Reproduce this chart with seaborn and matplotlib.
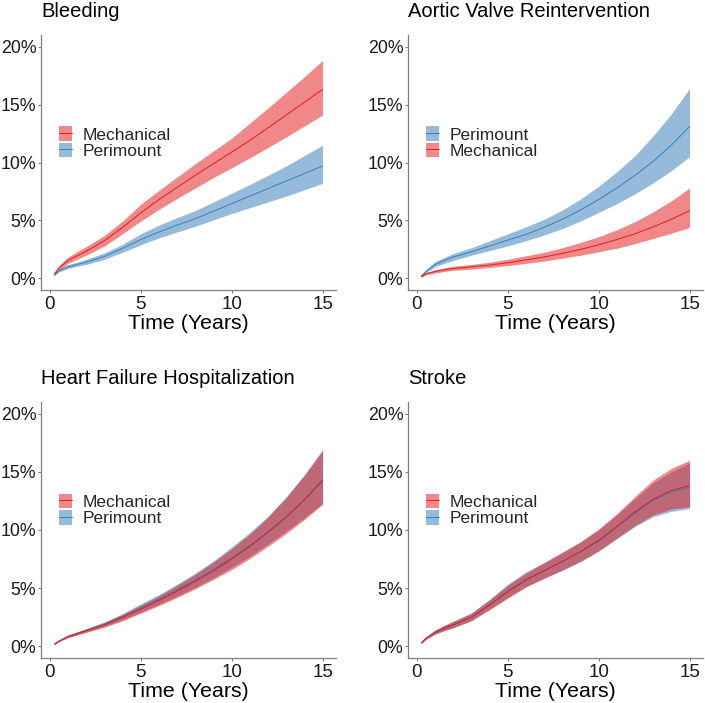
import matplotlib
matplotlib.use("Agg")
import matplotlib.pyplot as plt
import matplotlib.ticker as mtick
from matplotlib.patches import Patch
from matplotlib.lines import Line2D
from matplotlib.legend_handler import HandlerTuple
import seaborn as sns

# time grid (years) shared by every curve
TIME = [0.25, 0.5, 1, 1.5, 2, 3, 4, 5, 6, 7, 8, 9, 10, 11, 12, 13, 14, 15]

# cumulative incidence (%): estimate, lower, upper
bleed_mech = [0.4, 0.9, 1.55, 1.95, 2.35, 3.25, 4.4, 5.65, 6.8, 7.85, 8.9, 9.9, 10.9, 11.9, 13.0, 14.1, 15.2, 16.3]
bleed_mech_lo = [0.3, 0.7, 1.3, 1.65, 2.0, 2.8, 3.85, 4.95, 5.95, 6.9, 7.8, 8.7, 9.55, 10.4, 11.3, 12.2, 13.15, 14.1]
bleed_mech_hi = [0.5, 1.1, 1.85, 2.3, 2.75, 3.7, 4.95, 6.4, 7.6, 8.75, 9.9, 11.0, 12.1, 13.4, 14.7, 16.05, 17.4, 18.8]
bleed_peri = [0.3, 0.65, 1.0, 1.2, 1.4, 1.9, 2.6, 3.35, 4.0, 4.6, 5.15, 5.8, 6.45, 7.1, 7.75, 8.4, 9.05, 9.7]
bleed_peri_lo = [0.25, 0.55, 0.85, 1.05, 1.2, 1.65, 2.25, 2.9, 3.5, 4.0, 4.5, 5.05, 5.6, 6.1, 6.6, 7.1, 7.65, 8.2]
bleed_peri_hi = [0.35, 0.8, 1.2, 1.4, 1.65, 2.2, 2.95, 3.85, 4.6, 5.25, 5.85, 6.6, 7.35, 8.1, 8.9, 9.7, 10.6, 11.5]

avr_peri = [0.2, 0.6, 1.2, 1.55, 1.85, 2.3, 2.8, 3.3, 3.8, 4.4, 5.1, 5.9, 6.8, 7.8, 8.9, 10.1, 11.5, 13.1]
avr_peri_lo = [0.15, 0.5, 1.0, 1.3, 1.55, 2.0, 2.4, 2.8, 3.25, 3.75, 4.3, 4.95, 5.7, 6.45, 7.3, 8.25, 9.3, 10.5]
avr_peri_hi = [0.3, 0.75, 1.45, 1.8, 2.15, 2.65, 3.25, 3.85, 4.45, 5.1, 5.9, 6.85, 7.95, 9.2, 10.6, 12.3, 14.2, 16.4]
avr_mech = [0.15, 0.4, 0.6, 0.75, 0.85, 1.0, 1.15, 1.35, 1.6, 1.85, 2.15, 2.5, 2.9, 3.35, 3.85, 4.45, 5.1, 5.85]
avr_mech_lo = [0.1, 0.3, 0.45, 0.6, 0.7, 0.8, 0.95, 1.1, 1.3, 1.5, 1.75, 2.0, 2.3, 2.6, 3.0, 3.45, 3.9, 4.4]
avr_mech_hi = [0.2, 0.5, 0.75, 0.9, 1.05, 1.2, 1.4, 1.65, 1.95, 2.25, 2.65, 3.1, 3.6, 4.2, 4.9, 5.75, 6.7, 7.8]

hf_mech = [0.2, 0.45, 0.85, 1.1, 1.35, 1.85, 2.5, 3.2, 3.95, 4.75, 5.6, 6.5, 7.5, 8.6, 9.8, 11.1, 12.6, 14.3]
hf_mech_lo = [0.15, 0.4, 0.75, 0.98, 1.2, 1.65, 2.2, 2.85, 3.5, 4.2, 4.95, 5.75, 6.6, 7.55, 8.6, 9.7, 10.9, 12.2]
hf_mech_hi = [0.25, 0.5, 0.95, 1.22, 1.5, 2.05, 2.75, 3.55, 4.35, 5.25, 6.2, 7.25, 8.4, 9.65, 11.1, 12.8, 14.75, 16.9]
hf_peri = [0.2, 0.45, 0.86, 1.12, 1.38, 1.9, 2.58, 3.3, 4.05, 4.85, 5.7, 6.62, 7.6, 8.68, 9.85, 11.15, 12.6, 14.2]
hf_peri_lo = [0.15, 0.4, 0.77, 1.0, 1.24, 1.72, 2.3, 2.95, 3.62, 4.33, 5.08, 5.9, 6.8, 7.75, 8.8, 9.9, 11.05, 12.3]
hf_peri_hi = [0.25, 0.51, 0.96, 1.25, 1.53, 2.1, 2.82, 3.65, 4.45, 5.35, 6.3, 7.35, 8.55, 9.8, 11.2, 12.85, 14.7, 16.8]

stroke_mech = [0.3, 0.7, 1.2, 1.55, 1.85, 2.5, 3.55, 4.7, 5.7, 6.5, 7.3, 8.15, 9.1, 10.3, 11.55, 12.65, 13.4, 13.8]
stroke_mech_lo = [0.25, 0.6, 1.05, 1.35, 1.6, 2.2, 3.15, 4.15, 5.1, 5.85, 6.55, 7.3, 8.2, 9.3, 10.4, 11.3, 11.8, 12.0]
stroke_mech_hi = [0.35, 0.8, 1.4, 1.8, 2.15, 2.85, 4.0, 5.25, 6.3, 7.2, 8.1, 9.0, 10.1, 11.4, 12.9, 14.3, 15.3, 16.0]
stroke_peri = [0.3, 0.7, 1.2, 1.55, 1.85, 2.52, 3.6, 4.75, 5.75, 6.52, 7.3, 8.12, 9.05, 10.25, 11.45, 12.55, 13.25, 13.65]
stroke_peri_lo = [0.25, 0.6, 1.05, 1.35, 1.6, 2.22, 3.2, 4.2, 5.15, 5.85, 6.55, 7.3, 8.2, 9.25, 10.3, 11.15, 11.6, 11.85]
stroke_peri_hi = [0.35, 0.8, 1.4, 1.8, 2.15, 2.88, 4.05, 5.35, 6.4, 7.2, 8.05, 8.95, 10.0, 11.3, 12.7, 14.05, 15.0, 15.75]

TITLES = ["Bleeding", "Aortic Valve Reintervention", "Heart Failure Hospitalization", "Stroke"]
LEGEND_ORDER = [["Mechanical", "Perimount"], ["Perimount", "Mechanical"],
                ["Mechanical", "Perimount"], ["Mechanical", "Perimount"]]
COLORS = {"Mechanical": "#E41A1C", "Perimount": "#377EB8"}

panels = [
    {"Mechanical": (bleed_mech, bleed_mech_lo, bleed_mech_hi), "Perimount": (bleed_peri, bleed_peri_lo, bleed_peri_hi)},
    {"Mechanical": (avr_mech, avr_mech_lo, avr_mech_hi), "Perimount": (avr_peri, avr_peri_lo, avr_peri_hi)},
    {"Mechanical": (hf_mech, hf_mech_lo, hf_mech_hi), "Perimount": (hf_peri, hf_peri_lo, hf_peri_hi)},
    {"Mechanical": (stroke_mech, stroke_mech_lo, stroke_mech_hi), "Perimount": (stroke_peri, stroke_peri_lo, stroke_peri_hi)},
]

sns.set_theme(style="white")
plt.rcParams["font.family"] = ["Liberation Sans", "DejaVu Sans"]

W, H = 705, 703
fig = plt.figure(figsize=(W / 100, H / 100), dpi=100)

# axes boxes in pixels: left, top, right, bottom
boxes = [(41, 35, 336, 290), (408, 35, 703, 290), (41, 402, 336, 658), (408, 402, 703, 658)]

for i, (l, t, r, b) in enumerate(boxes):
    ax = fig.add_axes([l / W, (H - b) / H, (r - l) / W, (b - t) / H])
    data = panels[i]
    # Perimount first so Mechanical ribbon sits on top
    for g in ["Perimount", "Mechanical"]:
        est, lo, hi = data[g]
        ax.fill_between(TIME, lo, hi, color=COLORS[g], alpha=0.52, lw=0)
        sns.lineplot(x=TIME, y=est, color=COLORS[g], lw=0.7, ax=ax, errorbar=None)

    ax.set_xlim(-0.4875, 15.7375)
    ax.set_ylim(-1, 21)
    ax.set_xticks([0, 5, 10, 15])
    ax.set_yticks([0, 5, 10, 15, 20])
    ax.yaxis.set_major_formatter(mtick.PercentFormatter(decimals=0))
    ax.set_xlabel("Time (Years)", fontsize=15.4, color="black", labelpad=1)
    ax.set_ylabel("")
    ax.set_title(TITLES[i], loc="left", fontsize=14.5, pad=13, color="black")

    for s in ["top", "right"]:
        ax.spines[s].set_visible(False)
    for s in ["left", "bottom"]:
        ax.spines[s].set_color("#7f7f7f")
        ax.spines[s].set_linewidth(0.9)
    ax.tick_params(axis="both", length=2.2, width=0.8, color="#7f7f7f",
                   labelcolor="#1a1a1a", left=True, bottom=True)
    ax.tick_params(axis="y", pad=1.2, labelsize=12.8)
    ax.tick_params(axis="x", pad=2, labelsize=13.5)

    handles = []
    for g in LEGEND_ORDER[i]:
        handles.append((Patch(facecolor=COLORS[g], alpha=0.52, lw=0),
                        Line2D([], [], color=COLORS[g], lw=0.7)))
    ax.legend(handles, LEGEND_ORDER[i], handler_map={tuple: HandlerTuple(ndivide=1, pad=0)},
              loc="center left", bbox_to_anchor=(0.06, 0.578), frameon=False,
              fontsize=12.5, handlelength=0.75, handleheight=0.92, handletextpad=0.65,
              labelspacing=0, borderpad=0, borderaxespad=0)

fig.savefig("out.png", dpi=100)
